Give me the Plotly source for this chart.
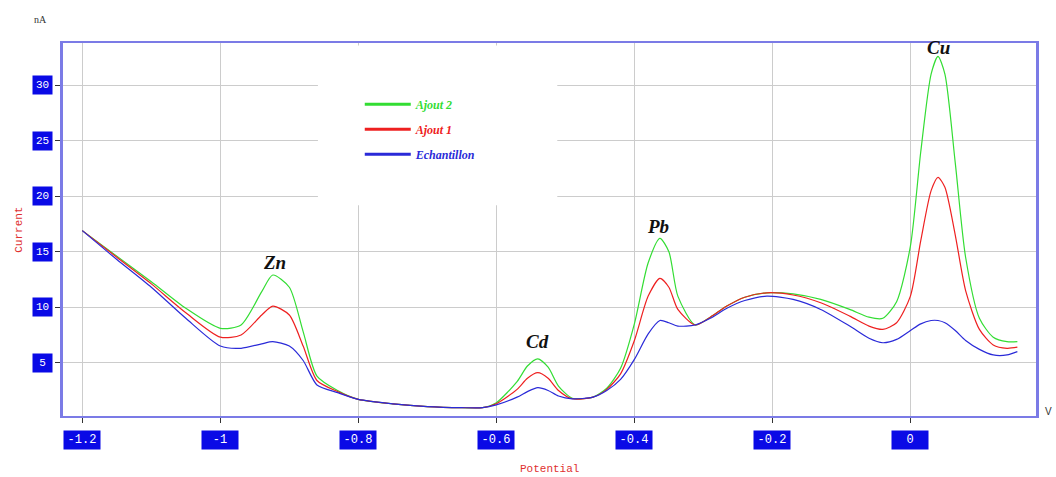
import plotly.graph_objects as go

# ---- data ----
potential = [-1.20, -1.15, -1.10, -1.05, -1.00, -0.97, -0.94, -0.924, -0.90, -0.88,
             -0.86, -0.83, -0.80, -0.75, -0.70, -0.65, -0.62, -0.60, -0.57, -0.555,
             -0.54, -0.525, -0.51, -0.49, -0.46, -0.44, -0.42, -0.40, -0.38, -0.363,
             -0.35, -0.337, -0.312, -0.29, -0.266, -0.24, -0.208, -0.17, -0.13, -0.088,
             -0.06, -0.04, -0.02, 0.00, 0.015, 0.03, 0.04, 0.05, 0.065, 0.08,
             0.10, 0.12, 0.14, 0.155]

ajout2 = [16.9, 14.6, 12.3, 9.9, 8.1, 8.4, 11.4, 12.9, 11.8, 7.8,
          3.8, 2.5, 1.7, 1.3, 1.05, 0.95, 0.95, 1.4, 3.3, 4.7,
          5.35, 4.6, 2.9, 1.8, 1.9, 2.7, 4.5, 8.5, 14.0, 16.2,
          15.0, 11.0, 8.4, 9.1, 10.1, 10.9, 11.3, 11.2, 10.7, 9.8,
          9.1, 9.0, 10.5, 15.5, 24.0, 31.0, 32.6, 31.0, 23.0, 14.5,
          9.0, 7.3, 6.9, 6.9]

ajout1 = [16.9, 14.5, 12.1, 9.5, 7.3, 7.5, 9.3, 10.1, 9.3, 6.5,
          3.4, 2.4, 1.7, 1.3, 1.05, 0.95, 0.95, 1.3, 2.6, 3.6,
          4.1, 3.6, 2.5, 1.75, 1.9, 2.6, 4.0, 7.0, 11.0, 12.6,
          11.8, 9.8, 8.4, 9.1, 10.1, 10.9, 11.3, 11.1, 10.4, 9.2,
          8.3, 8.0, 8.6, 11.0, 16.0, 20.5, 21.7, 20.8, 16.5, 11.5,
          8.0, 6.6, 6.3, 6.4]

echantillon = [16.9, 14.3, 11.8, 9.0, 6.5, 6.3, 6.7, 6.9, 6.5, 5.2,
               3.0, 2.3, 1.7, 1.3, 1.05, 0.95, 0.95, 1.2, 1.9, 2.4,
               2.75, 2.5, 2.0, 1.75, 1.9, 2.5, 3.5, 5.3, 7.6, 8.8,
               8.6, 8.3, 8.4, 9.0, 9.9, 10.6, 11.0, 10.7, 9.8, 8.3,
               7.2, 6.8, 7.1, 7.9, 8.5, 8.8, 8.8, 8.6, 7.9, 7.0,
               6.2, 5.7, 5.7, 6.0]

series_names = ["Ajout 2", "Ajout 1", "Echantillon"]
series_colors = ["#33dd33", "#ee2020", "#2a2ad8"]

x_ticks = [-1.2, -1.0, -0.8, -0.6, -0.4, -0.2, 0.0]
x_tick_labels = ["-1.2", "-1", "-0.8", "-0.6", "-0.4", "-0.2", "0"]
y_ticks = [5, 10, 15, 20, 25, 30]
y_tick_labels = ["5", "10", "15", "20", "25", "30"]

peak_labels = ["Zn", "Cd", "Pb", "Cu"]
peak_x = [-0.921, -0.541, -0.366, 0.041]
peak_y = [14.0, 6.9, 17.3, 33.4]

# ---- figure ----
fig = go.Figure()
for name, col, ys in zip(series_names, series_colors, [ajout2, ajout1, echantillon]):
    fig.add_trace(go.Scatter(
        x=potential, y=ys, mode="lines", showlegend=False,
        line=dict(color=col, width=1.2, shape="spline", smoothing=0.7),
        legendgroup=name, hoverinfo="skip",
    ))
# legend entries with thicker line samples
for name, col in zip(series_names, series_colors):
    fig.add_trace(go.Scatter(
        x=[None], y=[None], mode="lines", legendgroup=name,
        name="<span style='color:%s'><b><i>%s</i></b></span>" % (col, name),
        line=dict(color=col, width=3),
    ))

axis_line = "#7b7be6"
fig.update_layout(
    width=1056, height=477,
    margin=dict(l=63, r=20, t=43, b=61),
    paper_bgcolor="white", plot_bgcolor="white",
    showlegend=True,
    legend=dict(x=0.305, y=0.875, xanchor="left", yanchor="top",
                bgcolor="rgba(0,0,0,0)", tracegroupgap=6,
                font=dict(family="Liberation Serif", size=12),
                itemwidth=46),
    xaxis=dict(range=[-1.228, 0.182], tickvals=x_ticks, showticklabels=False,
               showgrid=True, gridcolor="#cccccc", gridwidth=1,
               ticks="outside", ticklen=5, tickcolor="#333333",
               showline=True, linecolor=axis_line, linewidth=2, mirror=True,
               zeroline=False),
    yaxis=dict(range=[0.2, 33.8], tickvals=y_ticks, showticklabels=False,
               showgrid=True, gridcolor="#cccccc", gridwidth=1,
               ticks="outside", ticklen=5, tickcolor="#333333",
               showline=True, linecolor=axis_line, linewidth=3, mirror=True,
               zeroline=False),
)

# white area behind the legend (covers the grid there)
fig.add_shape(type="rect", xref="paper", yref="paper", x0=0.262, x1=0.508, y0=0.565, y1=0.993,
              fillcolor="white", line=dict(width=0), layer="above")

# tick labels as white text on blue boxes
for v, t in zip(x_ticks, x_tick_labels):
    fig.add_annotation(x=v, y=-0.064, xref="x", yref="paper", text=t, showarrow=False,
                       xanchor="center", yanchor="middle",
                       font=dict(family="Liberation Mono", size=12, color="white"),
                       bgcolor="#0a0ae6", width=34, height=16, align="center")
for v, t in zip(y_ticks, y_tick_labels):
    fig.add_annotation(x=-0.0215, y=v, xref="paper", yref="y", text=t, showarrow=False,
                       xanchor="center", yanchor="middle",
                       font=dict(family="Liberation Mono", size=11, color="white"),
                       bgcolor="#0a0ae6", width=17, height=16, align="center")

# peak labels
for t, xv, yv in zip(peak_labels, peak_x, peak_y):
    fig.add_annotation(x=xv, y=yv, xref="x", yref="y", text="<b><i>%s</i></b>" % t,
                       showarrow=False, xanchor="center", yanchor="middle",
                       font=dict(family="Liberation Serif", size=19, color="#111111"))

# axis titles and units
fig.add_annotation(x=-0.046, y=0.5, xref="paper", yref="paper", text="Current", textangle=-90,
                   showarrow=False, xanchor="center", yanchor="middle",
                   font=dict(family="Liberation Mono", size=11, color="#e03030"))
fig.add_annotation(x=0.5, y=-0.142, xref="paper", yref="paper", text="Potential",
                   showarrow=False, xanchor="center", yanchor="middle",
                   font=dict(family="Liberation Mono", size=11, color="#e03030"))
fig.add_annotation(x=-0.0236, y=1.062, xref="paper", yref="paper", text="nA",
                   showarrow=False, xanchor="center", yanchor="middle",
                   font=dict(family="Liberation Serif", size=10, color="#333333"))
fig.add_annotation(x=1.013, y=0.012, xref="paper", yref="paper", text="V",
                   showarrow=False, xanchor="center", yanchor="middle",
                   font=dict(family="Liberation Sans", size=10, color="#333333"))

fig.write_html("out.html")
